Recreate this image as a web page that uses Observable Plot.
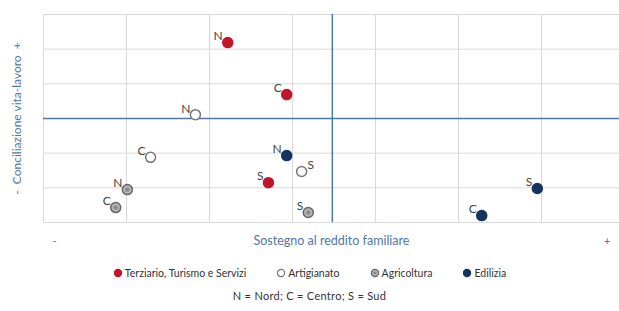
<!DOCTYPE html>
<html><head><meta charset="utf-8">
<script src="https://cdn.jsdelivr.net/npm/d3@7"></script>
<script src="https://cdn.jsdelivr.net/npm/@observablehq/plot@0.6"></script>
<style>
body{margin:0;background:#fff;font-family:Lato,"Open Sans",sans-serif;}
#wrap{width:619px;}
.legend{display:flex;justify-content:center;gap:30px;font-size:10.5px;color:#333;margin-top:11px;}
.legend span{display:flex;align-items:center;gap:2px;}
.legend svg{display:block}
.note{text-align:center;font-size:11px;color:#333;margin-top:10px;letter-spacing:0.3px;}
</style></head><body><div id="wrap"></div>
<script>
const sectors = ["Terziario, Turismo e Servizi", "Artigianato", "Agricoltura", "Edilizia"];
const regions = ["N", "C", "S"];
// x = Sostegno al reddito familiare, y = Conciliazione vita-lavoro (values per region N, C, S)
const terziarioX = [2.22, 2.93, 2.71];
const terziarioY = [5.19, 3.69, 1.15];
const artigianatoX = [1.83, 1.29, 3.11];
const artigianatoY = [3.11, 1.88, 1.47];
const agricolturaX = [1.01, 0.87, 3.19];
const agricolturaY = [0.95, 0.43, 0.29];
const ediliziaX = [2.93, 5.28, 5.95];
const ediliziaY = [1.93, 0.20, 0.98];
const refX = 3.48, refY = 3;
const gridTicks = [0, 1, 2, 3, 4, 5, 6];
const xTitle = "Sostegno al reddito familiare";
const yTitle = "-\u00a0\u00a0Conciliazione vita-lavoro\u00a0\u00a0+";
const note = "N = Nord; C = Centro; S = Sud";

const colors = {"Terziario, Turismo e Servizi": "#c2162b", "Artigianato": "#ffffff", "Agricoltura": "#b5b5b5", "Edilizia": "#14335f"};
const strokes = {"Terziario, Turismo e Servizi": "#c2162b", "Artigianato": "#777", "Agricoltura": "#666", "Edilizia": "#14335f"};
const xs = [terziarioX, artigianatoX, agricolturaX, ediliziaX];
const ys = [terziarioY, artigianatoY, agricolturaY, ediliziaY];
const data = [];
sectors.forEach((s, i) => regions.forEach((r, j) => data.push({sector: s, region: r, x: xs[i][j], y: ys[i][j]})));
const rightLabel = d => d.sector === "Artigianato" && d.region === "S";

const blue = "#4f76ab";
const chart = Plot.plot({
  width: 619, height: 256,
  marginTop: 14, marginBottom: 34, marginLeft: 43, marginRight: 0,
  x: {domain: [0, 6.94], axis: null},
  y: {domain: [0, 6], axis: null},
  style: {fontFamily: "Lato, 'Open Sans', sans-serif"},
  marks: [
    Plot.gridX(gridTicks, {stroke: "#d9d9d9", strokeOpacity: 1}),
    Plot.gridY(gridTicks, {stroke: "#d9d9d9", strokeOpacity: 1}),
    Plot.ruleX([refX], {stroke: blue, strokeWidth: 1.5}),
    Plot.ruleY([refY], {stroke: blue, strokeWidth: 1.5}),
    Plot.dot(data, {x: "x", y: "y", r: 5, fill: d => colors[d.sector], stroke: d => strokes[d.sector], strokeWidth: 1.5}),
    Plot.dot(data.filter(d => d.sector === "Agricoltura"), {x: "x", y: "y", r: 2.2, fill: "#8a8a8a"}),
    Plot.text(data.filter(d => !rightLabel(d)), {x: "x", y: "y", text: "region", textAnchor: "end", dx: -5, dy: -6, fontSize: 12, fill: "#444"}),
    Plot.text(data.filter(rightLabel), {x: "x", y: "y", text: "region", textAnchor: "start", dx: 6, dy: -6, fontSize: 12, fill: "#444"}),
    Plot.text([xTitle], {frameAnchor: "bottom", dy: 22, text: d => d, fill: blue, fontSize: 12.5, letterSpacing: "0.5px"}),
    Plot.text(["-"], {frameAnchor: "bottom-left", dx: 9, dy: 22, text: d => d, fill: blue, fontSize: 11}),
    Plot.text(["+"], {frameAnchor: "bottom-right", dx: -9, dy: 22, text: d => d, fill: blue, fontSize: 11}),
    Plot.text([yTitle], {frameAnchor: "left", textAnchor: "middle", dx: -26, rotate: -90, text: d => d, fill: blue, fontSize: 12, letterSpacing: "0.5px"})
  ]
});
const wrap = document.getElementById("wrap");
wrap.appendChild(chart);
const leg = document.createElement("div");
leg.className = "legend";
sectors.forEach(s => {
  const sp = document.createElement("span");
  const inner = s === "Agricoltura" ? '<circle cx="5" cy="5" r="1.6" fill="#8a8a8a"/>' : '';
  sp.innerHTML = `<svg width="10" height="10"><circle cx="5" cy="5" r="3.6" fill="${colors[s]}" stroke="${strokes[s]}" stroke-width="1.2"/>${inner}</svg>`;
  sp.appendChild(document.createTextNode(s));
  leg.appendChild(sp);
});
wrap.appendChild(leg);
const n = document.createElement("div");
n.className = "note";
n.textContent = note;
wrap.appendChild(n);
</script></body></html>
